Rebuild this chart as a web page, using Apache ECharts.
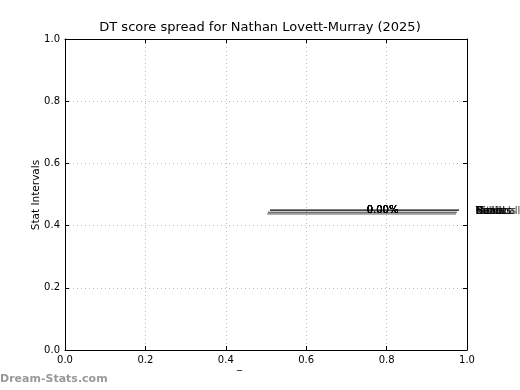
<!DOCTYPE html>
<html><head><meta charset="utf-8">
<script src="https://cdn.jsdelivr.net/npm/echarts@6/dist/echarts.min.js"></script>
<style>html,body{margin:0;padding:0;background:#fff}#c{width:520px;height:390px}</style>
</head><body><div id="c"></div>
<script>
const titleText = 'DT score spread for Nathan Lovett-Murray (2025)';
const yAxisTitle = 'Stat Intervals';
const xTicks = [0, 0.2, 0.4, 0.6, 0.8, 1.0];
const yTicks = [0, 0.2, 0.4, 0.6, 0.8, 1.0];
const statNames = ['Kicks', 'Handball', 'Marks', 'Tackles', 'Hitouts', 'Goals', 'Behinds'];
const statPct = ['0.00%', '0.00%', '0.00%', '0.00%', '0.00%', '0.00%', '0.00%'];
const lineMain = [[0.51, 0.45], [0.98, 0.45]];
const lineLow = [[0.505, 0.443], [0.975, 0.443]];
const lineShadow = [[0.503, 0.438], [0.973, 0.438]];
const pctPos = [0.79, 0.45];
const namePos = [1.022, 0.446];

const chart = echarts.init(document.getElementById('c'), null, {renderer: 'canvas'});
const font = 'DejaVu Sans';
const axisCommon = {
  type: 'value', min: 0, max: 1, interval: 0.2,
  axisLine: {show: true, onZero: false, lineStyle: {color: '#000', width: 1}},
  axisTick: {show: true, inside: true, length: 4, lineStyle: {color: '#000'}},
};
chart.setOption({
  animation: false,
  backgroundColor: '#fff',
  textStyle: {fontFamily: font},
  title: {text: titleText, left: 'center', top: 16,
    textStyle: {fontFamily: font, fontSize: 13, fontWeight: 'normal', color: '#000'}},
  grid: {left: 65, top: 39, width: 402, height: 311, containLabel: false},
  xAxis: [
    Object.assign({}, axisCommon, {position: 'bottom',
      axisLabel: {color: '#000', fontSize: 10, fontFamily: font, margin: 5, formatter: v => v.toFixed(1)},
      splitLine: {show: true, lineStyle: {color: '#bbb', type: [1, 3], width: 1}}}),
    Object.assign({}, axisCommon, {position: 'top', axisLabel: {show: false}, splitLine: {show: false}})
  ],
  yAxis: [
    Object.assign({}, axisCommon, {position: 'left',
      axisLabel: {color: '#000', fontSize: 10, fontFamily: font, margin: 5, formatter: v => v.toFixed(1)},
      splitLine: {show: true, lineStyle: {color: '#bbb', type: [1, 3], width: 1}}}),
    Object.assign({}, axisCommon, {position: 'right', axisLabel: {show: false}, splitLine: {show: false}})
  ],
  series: [
    {type: 'line', data: lineShadow, symbol: 'none', lineStyle: {color: '#999', width: 2}, z: 2},
    {type: 'line', data: lineLow, symbol: 'none', lineStyle: {color: '#444', width: 1}, z: 3},
    {type: 'line', data: lineMain, symbol: 'none', lineStyle: {color: '#000', width: 1.2}, z: 3},
    {type: 'scatter', symbolSize: 0, clip: false, z: 5,
      data: statPct.map(p => ({value: pctPos, name: p})),
      label: {show: true, position: 'inside', formatter: p => p.name, color: '#000', fontSize: 10, fontFamily: font}},
    {type: 'scatter', symbolSize: 0, clip: false, z: 5,
      data: statNames.map(n => ({value: namePos, name: n})),
      label: {show: true, position: 'right', distance: 0, formatter: p => p.name, color: '#000', fontSize: 10, fontFamily: font}}
  ],
  graphic: [
    {type: 'text', x: 36, y: 195, rotation: Math.PI / 2,
      style: {text: yAxisTitle, fill: '#000', font: '10.5px DejaVu Sans', align: 'center', verticalAlign: 'middle'}},
    {type: 'text', left: 237, top: 360, style: {text: '_', fill: '#000', font: '10px DejaVu Sans'}},
    {type: 'text', left: 0, top: 374, style: {text: 'Dream-Stats.com', fill: '#999', font: 'bold 11px DejaVu Sans'}}
  ]
});
</script></body></html>
